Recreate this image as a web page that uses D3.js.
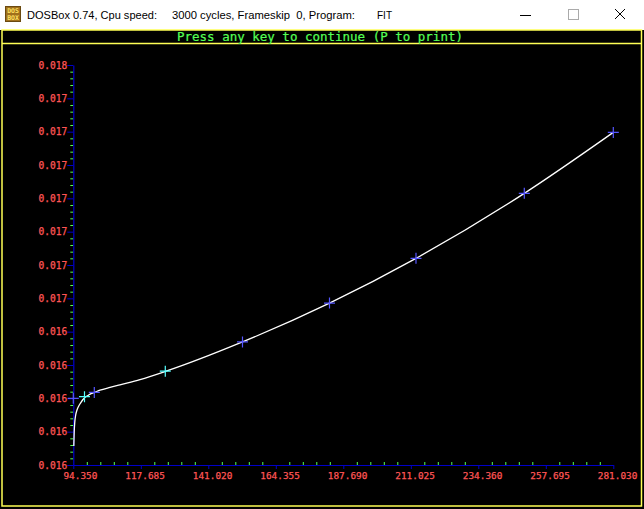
<!DOCTYPE html>
<html><head><meta charset="utf-8">
<script src="https://cdn.jsdelivr.net/npm/d3@7"></script>
<style>body{margin:0;background:#000;overflow:hidden}</style>
</head><body>
<script>
// ---- data ----
const xTicks = [94.350, 117.685, 141.020, 164.355, 187.690, 211.025, 234.360, 257.695, 281.030];
const xTickLabels = ["94.350", "117.685", "141.020", "164.355", "187.690", "211.025", "234.360", "257.695", "281.030"];
const yTicks = [0.01590, 0.01604, 0.01618, 0.01632, 0.01646, 0.01660, 0.01674, 0.01688, 0.01702, 0.01716, 0.01730, 0.01744, 0.01758];
const yTickLabels = ["0.016", "0.016", "0.016", "0.016", "0.016", "0.017", "0.017", "0.017", "0.017", "0.017", "0.017", "0.017", "0.018"];
const pointX = [94.35, 98.22, 101.61, 126.15, 152.84, 182.92, 212.82, 250.26, 281.03];
const pointY = [0.016180, 0.016187, 0.016205, 0.016294, 0.016417, 0.016580, 0.016768, 0.017041, 0.017297];
const pointKind = ["blue", "cyan", "blue", "cyan", "blue", "blue", "blue", "blue", "blue"];
const curveX = [94.52, 94.66, 94.87, 95.18, 95.63, 96.15, 96.84, 97.70, 98.39, 99.43, 100.47, 101.61, 103.58, 107.04, 110.49, 117.41, 126.15, 152.84, 182.92, 212.82, 250.26, 281.03];
const curveY = [0.015980, 0.016039, 0.016081, 0.016110, 0.016131, 0.016146, 0.016160, 0.016175, 0.016184, 0.016192, 0.016200, 0.016205, 0.016214, 0.016226, 0.016237, 0.016259, 0.016293, 0.016417, 0.016580, 0.016768, 0.017041, 0.017297];
const titleParts = ["DOSBox 0.74, Cpu speed:", "3000 cycles, Frameskip  0, Program:", "FIT"];
const headerText = "Press any key to continue (P to print)";

// ---- drawing ----
const W = 644, H = 509;
const svg = d3.select("body").append("svg").attr("width", W).attr("height", H);
const mono = "'DejaVu Sans Mono', 'Liberation Mono', monospace";
const RED = "#ff5555", GREEN = "#55ff55", AXBLUE = "#0000c8";
const markColor = {blue: "#5555ff", cyan: "#55ffff"};

// window chrome
svg.append("rect").attr("x", 0).attr("y", 0).attr("width", W).attr("height", H).attr("fill", "#000");
svg.append("rect").attr("x", 0).attr("y", 0).attr("width", W).attr("height", 30).attr("fill", "#fff");
const icon = svg.append("g").attr("transform", "translate(5,6)");
icon.append("rect").attr("width", 16).attr("height", 16).attr("fill", "#6b4a10");
icon.append("rect").attr("x", 1).attr("y", 1).attr("width", 14).attr("height", 14).attr("fill", "#a0701c");
icon.append("text").attr("x", 8).attr("y", 7).attr("text-anchor", "middle").attr("font-family", mono).attr("font-size", 6.5).attr("font-weight", "bold").attr("fill", "#ffe060").text("DOS");
icon.append("text").attr("x", 8).attr("y", 14).attr("text-anchor", "middle").attr("font-family", mono).attr("font-size", 6.5).attr("font-weight", "bold").attr("fill", "#ffe060").text("BOX");
const tf = "'Liberation Sans', 'Noto Sans', sans-serif";
const titleX = [27, 172, 377];
const titleW = [130, 183, 15];
titleParts.forEach((t, i) => {
  svg.append("text").attr("x", titleX[i]).attr("y", 19).attr("font-family", tf).attr("font-size", 11.3)
    .attr("fill", "#000").attr("textLength", titleW[i]).attr("lengthAdjust", "spacingAndGlyphs").style("white-space", "pre").text(t);
});
svg.append("line").attr("x1", 520).attr("x2", 531).attr("y1", 15.5).attr("y2", 15.5).attr("stroke", "#000").attr("stroke-width", 1);
svg.append("rect").attr("x", 568.5).attr("y", 9.5).attr("width", 10).attr("height", 10).attr("fill", "none").attr("stroke", "#aaa");
svg.append("path").attr("d", "M615,9L625,19M625,9L615,19").attr("stroke", "#000").attr("stroke-width", 1);

// yellow frame
svg.append("rect").attr("x", 2).attr("y", 30).attr("width", 639.5).attr("height", 476)
  .attr("fill", "none").attr("stroke", "#ffff55").attr("stroke-width", 1.5);
svg.append("line").attr("x1", 2).attr("x2", 641.5).attr("y1", 43.5).attr("y2", 43.5).attr("stroke", "#ffff55").attr("stroke-width", 1.5);
svg.append("text").attr("x", 320).attr("y", 41).attr("text-anchor", "middle").attr("font-family", mono)
  .attr("font-size", 12.5).attr("fill", GREEN).attr("stroke", GREEN).attr("stroke-width", 0.2).text(headerText);

// scales
const x = d3.scaleLinear().domain([xTicks[0], xTicks[xTicks.length - 1]]).range([73.3, 613.3]);
const y = d3.scaleLinear().domain([yTicks[0], yTicks[yTicks.length - 1]]).range([465, 65]);

function minors(ticks) {
  const out = [];
  for (let i = 0; i < ticks.length - 1; i++) {
    for (let k = 1; k < 5; k++) out.push(ticks[i] + (ticks[i + 1] - ticks[i]) * k / 5);
  }
  return out;
}

// x minor ticks
const xMinor = svg.append("g").attr("transform", "translate(0,465)")
  .call(d3.axisTop(x).tickValues(minors(xTicks)).tickSize(3).tickFormat(""));
xMinor.select(".domain").remove();
xMinor.selectAll("line").attr("stroke", GREEN).attr("y1", 1).attr("y2", -3);

// y minor ticks
const yMinor = svg.append("g").attr("transform", "translate(73.3,0)")
  .call(d3.axisLeft(y).tickValues(minors(yTicks)).tickSize(3).tickFormat(""));
yMinor.select(".domain").remove();
yMinor.selectAll("line").attr("stroke", GREEN);

// x axis
const xAxis = svg.append("g").attr("transform", "translate(0,465)")
  .call(d3.axisBottom(x).tickValues(xTicks).tickSizeInner(4).tickSizeOuter(0)
    .tickFormat((d, i) => xTickLabels[i].padStart(7, " ")));
xAxis.select(".domain").attr("stroke", AXBLUE).attr("stroke-width", 1.2);
xAxis.selectAll("line").attr("stroke", AXBLUE);
xAxis.selectAll("text").attr("fill", RED).attr("stroke", RED).attr("stroke-width", 0.25)
  .attr("font-family", mono).attr("font-size", 9.4)
  .attr("text-anchor", "start").attr("x", -16).attr("y", 13.5).attr("dy", 0).style("white-space", "pre");

// y axis
const yAxis = svg.append("g").attr("transform", "translate(73.3,0)")
  .call(d3.axisLeft(y).tickValues(yTicks).tickSizeInner(6).tickSizeOuter(0).tickPadding(0)
    .tickFormat((d, i) => yTickLabels[i]));
yAxis.select(".domain").attr("stroke", AXBLUE).attr("stroke-width", 1.2);
yAxis.selectAll("line").attr("stroke", AXBLUE);
yAxis.selectAll("text").attr("fill", RED).attr("stroke", RED).attr("stroke-width", 0.25)
  .attr("font-family", mono).attr("font-size", 9.6);
svg.selectAll("g").attr("font-family", mono);

// fitted curve
const curveData = curveX.map((v, i) => [v, curveY[i]]);
svg.append("path").datum(curveData)
  .attr("d", d3.line().x(d => x(d[0])).y(d => y(d[1])).curve(d3.curveMonotoneX))
  .attr("fill", "none").attr("stroke", "#fff").attr("stroke-width", 1.3);

// data markers
const pts = pointX.map((v, i) => ({x: v, y: pointY[i], k: pointKind[i]}));
svg.append("g").selectAll("path").data(pts).join("path")
  .attr("d", d => {
    const px = x(d.x), py = y(d.y), r = 5.5;
    return `M${px - r},${py}H${px + r}M${px},${py - r}V${py + r}`;
  })
  .attr("stroke", d => markColor[d.k]).attr("stroke-width", 1.2).attr("fill", "none");
</script>
</body></html>
